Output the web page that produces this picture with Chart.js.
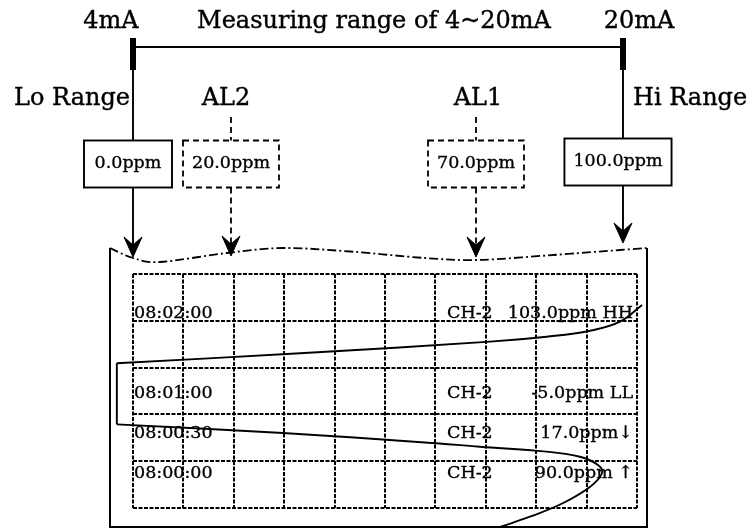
<!DOCTYPE html>
<html>
<head>
<meta charset="utf-8">
<script src="https://cdn.jsdelivr.net/npm/chart.js@4.4.1/dist/chart.umd.min.js"></script>
<style>
  html, body { margin: 0; padding: 0; background: #fff; }
  canvas { display: block; }
</style>
</head>
<body>
<canvas id="recorder" width="750" height="528"></canvas>
<script>
// range settings (ppm)
const rangeNames = ['Lo Range', 'AL2', 'AL1', 'Hi Range'];
const rangeValues = [0, 20, 70, 100];
const rangeBoxText = ['0.0ppm', '20.0ppm', '70.0ppm', '100.0ppm'];
const rangeIsAlarm = [false, true, true, false];
const currentLabels = ['4mA', '20mA'];
const currentTitle = 'Measuring range of 4~20mA';

// printed log lines (seconds after 08:00:00)
const logSeconds = [0, 30, 60, 120];
const logTimes = ['08:00:00', '08:00:30', '08:01:00', '08:02:00'];
const logChannels = ['CH-2', 'CH-2', 'CH-2', 'CH-2'];
const logValues = ['90.0ppm ↑', '17.0ppm↓', '-5.0ppm LL', '103.0ppm HH'];

// pen trace: ppm against seconds after 08:00:00
const traceLowPpm = [74.9, 81.0, 87.8, 93.3, 95.7, 94.9, 91.2, 84.4, 70.8, 59.6, 30.6, -3.3];
const traceLowSec = [-40.5, -32.8, -22.5, -10.3, -0.2, 6.0, 12.2, 16.0, 19.7, 22.9, 30.0, 36.5];
const traceClipPpm = [-3.3, -3.3];
const traceClipSec = [36.5, 82.3];
const traceHighPpm = [-3.3, 34.1, 72.9, 84.4, 93.3, 99.4, 103.9];
const traceHighSec = [82.3, 89.8, 98.5, 102.2, 106.7, 113.5, 126.0];

const FONT = '"DejaVu Serif", "Liberation Serif", serif';

function toPoints(xs, ys) {
  return xs.map((x, i) => ({ x: x, y: ys[i] }));
}

function penLine(xs, ys, tension) {
  return {
    data: toPoints(xs, ys),
    showLine: true,
    tension: tension,
    borderColor: '#000',
    borderWidth: 1.9,
    pointRadius: 0,
    clip: false
  };
}

// split a scale into n equal chart-paper divisions
function paperTicks(n) {
  return function (scale) {
    const step = (scale.max - scale.min) / n;
    scale.ticks = [];
    for (let i = 0; i <= n; i++) scale.ticks.push({ value: scale.min + i * step });
  };
}

function smoothPath(ctx, pts) {
  ctx.moveTo(pts[0][0], pts[0][1]);
  for (let i = 0; i < pts.length - 1; i++) {
    const p0 = pts[Math.max(i - 1, 0)], p1 = pts[i], p2 = pts[i + 1], p3 = pts[Math.min(i + 2, pts.length - 1)];
    ctx.bezierCurveTo(
      p1[0] + (p2[0] - p0[0]) / 6, p1[1] + (p2[1] - p0[1]) / 6,
      p2[0] - (p3[0] - p1[0]) / 6, p2[1] - (p3[1] - p1[1]) / 6,
      p2[0], p2[1]);
  }
}

function arrowHead(ctx, x, tip) {
  ctx.beginPath();
  ctx.moveTo(x, tip);
  ctx.lineTo(x - 9, tip - 20);
  ctx.lineTo(x, tip - 12);
  ctx.lineTo(x + 9, tip - 20);
  ctx.closePath();
  ctx.fill();
  ctx.lineWidth = 1;
  ctx.stroke();
}

// slightly heavier text, closer to the printed look
function inkText(ctx, text, x, y) {
  ctx.fillText(text, x, y);
  ctx.strokeText(text, x, y);
}

const diagram = {
  id: 'diagram',
  afterDraw(chart) {
    const ctx = chart.ctx;
    const area = chart.chartArea;
    const xs = chart.scales.x;
    const ys = chart.scales.y;
    const px = rangeValues.map(v => xs.getPixelForValue(v));
    const loX = px[0], hiX = px[3];

    ctx.save();
    ctx.fillStyle = '#000';
    ctx.strokeStyle = '#000';

    // 4~20mA header
    ctx.font = '24px ' + FONT;
    ctx.lineWidth = 0.4;
    ctx.textBaseline = 'alphabetic';
    ctx.textAlign = 'center';
    inkText(ctx, currentLabels[0], loX - 22, 28);
    inkText(ctx, currentTitle, (loX + hiX) / 2 - 4, 28);
    inkText(ctx, currentLabels[1], hiX + 16, 28);

    // range / alarm labels
    ctx.textAlign = 'right';
    inkText(ctx, rangeNames[0], loX - 3, 105);
    ctx.textAlign = 'left';
    inkText(ctx, rangeNames[3], hiX + 10, 105);
    ctx.textAlign = 'center';
    inkText(ctx, rangeNames[1], px[1] - 5, 105);
    inkText(ctx, rangeNames[2], px[2] + 2, 105);

    ctx.lineWidth = 2;
    ctx.beginPath();
    ctx.moveTo(loX, 47);
    ctx.lineTo(hiX, 47);
    ctx.stroke();
    ctx.fillRect(loX - 3, 38, 6, 32);
    ctx.fillRect(hiX - 3, 38, 6, 32);

    const tips = [257, 256, 257, 243];
    const boxShift = [-5, 0, 0, -5];
    ctx.font = '17.5px ' + FONT;
    rangeValues.forEach((v, i) => {
      const x = px[i];
      const dashed = rangeIsAlarm[i];
      const w = Math.max(88, ctx.measureText(rangeBoxText[i]).width + 18);
      const cx = x + boxShift[i];
      const top = i === 3 ? 138.5 : 140.5;
      const h = 47;
      ctx.lineWidth = dashed ? 1.8 : 1.9;
      ctx.setLineDash(dashed ? [6, 4] : []);
      ctx.beginPath();
      if (dashed) ctx.moveTo(x, 117); else ctx.moveTo(x, 70);
      ctx.lineTo(x, top);
      ctx.moveTo(x, top + h);
      ctx.lineTo(x, tips[i] - 12);
      ctx.stroke();
      ctx.strokeRect(cx - w / 2, top, w, h);
      ctx.setLineDash([]);
      ctx.textAlign = 'center';
      ctx.textBaseline = 'middle';
      ctx.lineWidth = 0.35;
      inkText(ctx, rangeBoxText[i], cx, top + h / 2 - 1);
      arrowHead(ctx, x, tips[i]);
    });

    // chart paper outline with torn top edge
    const left = area.left - 23, right = area.right + 10, bottom = area.bottom + 19;
    ctx.lineWidth = 2;
    ctx.beginPath();
    ctx.moveTo(left, 248);
    ctx.lineTo(left, bottom);
    ctx.lineTo(right, bottom);
    ctx.lineTo(right, 248);
    ctx.stroke();
    ctx.lineWidth = 1.8;
    ctx.setLineDash([9, 3, 2, 3]);
    ctx.beginPath();
    smoothPath(ctx, [[left, 248], [133, 258], [160, 262], [227, 253], [283, 248], [350, 251.5],
      [425, 258], [478, 260], [553, 255], [620, 250], [right, 248]]);
    ctx.stroke();
    ctx.setLineDash([]);

    // printed log lines
    ctx.font = '17.5px ' + FONT;
    ctx.lineWidth = 0.35;
    ctx.textBaseline = 'middle';
    logSeconds.forEach((s, i) => {
      const y = ys.getPixelForValue(s);
      ctx.textAlign = 'left';
      inkText(ctx, logTimes[i], area.left + 1, y);
      inkText(ctx, logChannels[i], area.left + 314, y);
      ctx.textAlign = 'right';
      inkText(ctx, logValues[i], area.right - 4, y);
    });
    ctx.restore();
  }
};

new Chart(document.getElementById('recorder'), {
  type: 'scatter',
  data: {
    datasets: [
      penLine(traceLowPpm, traceLowSec, 0.4),
      penLine(traceClipPpm, traceClipSec, 0),
      penLine(traceHighPpm, traceHighSec, 0.4)
    ]
  },
  options: {
    responsive: false,
    animation: false,
    devicePixelRatio: 1,
    layout: { padding: { left: 133, right: 113, top: 274, bottom: 20 } },
    plugins: { legend: { display: false }, tooltip: { enabled: false } },
    scales: {
      x: {
        type: 'linear',
        min: 0,
        max: 102.86,
        afterBuildTicks: paperTicks(10),
        ticks: { display: false },
        grid: { color: '#000', lineWidth: 2, drawTicks: false },
        border: { display: false, dash: [4, 1.5] }
      },
      y: {
        type: 'linear',
        min: -26.25,
        max: 149.25,
        afterBuildTicks: paperTicks(5),
        ticks: { display: false },
        grid: { color: '#000', lineWidth: 2, drawTicks: false },
        border: { display: false, dash: [4, 1.5] }
      }
    }
  },
  plugins: [diagram]
});
</script>
</body>
</html>
